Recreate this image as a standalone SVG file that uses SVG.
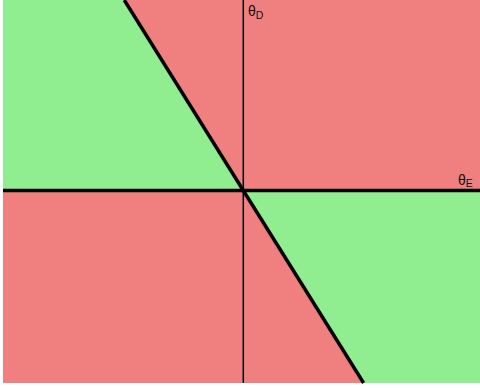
<svg xmlns="http://www.w3.org/2000/svg" width="480" height="388" viewBox="0 0 480 388">
<style>
.red{fill:#F08080}
.green{fill:#90EE90}
.lbl{font-family:"Liberation Sans",Arial,sans-serif;font-size:14px;fill:#111}
.sub{font-size:10.5px}
</style>
<rect x="0" y="0" width="480" height="388" fill="#ffffff"/>
<g id="regions">
<rect class="red" x="3" y="0" width="477" height="383"/>
<polygon class="green" points="3,0 124.25,0 243,190 3,190"/>
<polygon class="green" points="243,190 480,190 480,383 363.6,383"/>
</g>
<g id="connectors" stroke="#000" fill="none">
<line x1="243.3" y1="0" x2="243.3" y2="383" stroke-width="1.5"/>
<line x1="3" y1="190.5" x2="480" y2="190.5" stroke-width="3.5"/>
<line x1="124.25" y1="0" x2="363.6" y2="383" stroke-width="3.5"/>
</g>
<g id="label-thetaD"><text class="lbl" x="248" y="15.5">θ<tspan class="sub" dy="3">D</tspan></text></g>
<g id="label-thetaE"><text class="lbl" x="458" y="184.5">θ<tspan class="sub" dy="2.5">E</tspan></text></g>
</svg>
